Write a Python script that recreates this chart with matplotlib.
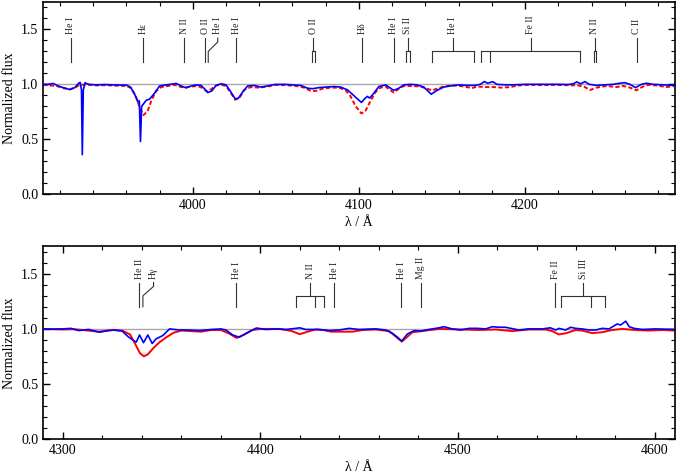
"""Observed vs. model spectrum of a B star, two wavelength windows, with line identifications."""

import matplotlib
matplotlib.use("Agg")
from matplotlib import pyplot as plt
from matplotlib.ticker import MultipleLocator, FormatStrFormatter

plt.rcParams.update({"font.family": ["Liberation Serif", "DejaVu Serif"],
                     "mathtext.fontset": "stix"})

# --- window 1: 3910-4290 A -------------------------------------------------
obs1_wl = [3910, 3913, 3916, 3919, 3922, 3926, 3929, 3931, 3932.2, 3933.0, 3933.5, 3934.1, 3935.2,
           3937, 3942, 3947, 3952, 3957, 3960, 3962.5, 3965, 3966.9, 3967.8, 3968.5, 3969.2, 3970.2,
           3972, 3974, 3977, 3980, 3984, 3988, 3990, 3993, 3996, 3999, 4002, 4005, 4007, 4009,
           4011.5, 4014, 4017, 4020, 4022.5, 4025.5, 4027.5, 4030, 4033, 4037, 4041, 4045, 4049,
           4055, 4060, 4065, 4069, 4072, 4076, 4080, 4085, 4089, 4093, 4096, 4098.5, 4101.5, 4103.5,
           4105, 4106.5, 4109, 4112, 4116, 4119, 4121, 4124, 4127, 4131, 4135, 4139, 4143.5, 4147,
           4151, 4155, 4160, 4165, 4170, 4173, 4175.5, 4177.5, 4180.5, 4183, 4188, 4193, 4200, 4210,
           4220, 4226, 4229, 4231, 4233.5, 4236, 4238.5, 4243, 4248, 4253, 4258, 4260, 4263, 4266.5,
           4270, 4273, 4277, 4283, 4290]
obs1_fl = [1.000, 1.000, 1.008, 0.985, 0.970, 0.952, 0.970, 1.005, 1.018, 0.950, 0.360, 0.950, 1.015,
           1.000, 0.995, 0.998, 0.995, 0.993, 0.993, 0.975, 0.910, 0.840, 0.850, 0.480, 0.800, 0.820,
           0.855, 0.865, 0.920, 0.985, 0.995, 1.003, 1.008, 0.985, 0.968, 0.985, 0.995, 0.990, 0.960, 0.925,
           0.940, 0.990, 1.005, 0.995, 0.940, 0.868, 0.875, 0.930, 0.985, 0.990, 0.975, 0.985, 0.998,
           1.000, 0.995, 0.990, 0.965, 0.960, 0.970, 0.975, 0.980, 0.975, 0.950, 0.910, 0.875, 0.835, 0.870,
           0.890, 0.875, 0.920, 0.980, 0.995, 0.965, 0.945, 0.965, 0.995, 1.000, 0.995, 0.975, 0.910, 0.945,
           0.975, 0.985, 0.995, 0.990, 0.990, 1.000, 1.025, 1.010, 1.024, 1.000, 0.995, 0.995, 1.000, 1.000,
           1.000, 0.998, 1.005, 1.022, 1.005, 1.025, 1.000, 0.990, 0.995, 1.000, 1.012, 1.015, 1.000, 0.970,
           1.000, 1.010, 1.000, 0.995, 0.990]

mod1_wl = [3910, 3914, 3918, 3922, 3926, 3929, 3932, 3936, 3942, 3948, 3954, 3960, 3963, 3966, 3968,
           3970.3, 3972.9, 3975, 3978, 3981, 3985, 3989, 3993, 3996, 3999, 4003, 4006, 4008.5, 4011,
           4014, 4017, 4020, 4022.5, 4025.5, 4028, 4031, 4035, 4040, 4045, 4050, 4056, 4062, 4067, 4071,
           4074, 4078, 4083, 4088, 4092, 4095, 4098, 4101.5, 4104, 4107, 4110, 4113, 4116, 4119, 4121,
           4124, 4127, 4132, 4137, 4141, 4144, 4147, 4151, 4156, 4161, 4165, 4168, 4171, 4176, 4181,
           4186, 4191, 4196, 4202, 4210, 4218, 4226, 4232, 4236, 4239, 4243, 4249, 4255, 4259, 4263,
           4267, 4271, 4274, 4279, 4285, 4290]
mod1_fl = [0.995, 0.990, 0.985, 0.965, 0.955, 0.970, 0.995, 0.998, 0.990, 0.992, 0.988, 0.985, 0.965,
           0.880, 0.790, 0.720, 0.757, 0.850, 0.940, 0.975, 0.985, 0.995, 0.975, 0.972, 0.980, 0.985,
           0.965, 0.935, 0.955, 0.990, 0.995, 0.985, 0.930, 0.860, 0.875, 0.950, 0.975, 0.970, 0.980, 0.995,
           0.992, 0.985, 0.970, 0.940, 0.940, 0.960, 0.970, 0.970, 0.945, 0.890, 0.800, 0.735, 0.760, 0.850,
           0.930, 0.970, 0.980, 0.945, 0.925, 0.960, 0.985, 0.985, 0.980, 0.960, 0.945, 0.960, 0.980, 0.990,
           0.985, 0.975, 0.965, 0.980, 0.975, 0.975, 0.970, 0.975, 0.990, 0.995, 0.993, 0.995, 0.992, 0.990,
           0.975, 0.948, 0.970, 0.985, 0.975, 0.985, 0.970, 0.945, 0.980, 0.995, 0.990, 0.975, 0.985]

# --- window 2: 4290-4610 A -------------------------------------------------
obs2_wl = [4290, 4295, 4300, 4304, 4308, 4313, 4318.5, 4323, 4326, 4330, 4333, 4335.4, 4337.1, 4338.8,
           4340.8, 4343, 4345.2, 4347.2, 4350.6, 4354, 4359, 4364, 4369, 4375.5, 4380, 4382.6, 4386,
           4389.4, 4392.8, 4396, 4398, 4402.9, 4408, 4413, 4418, 4420, 4423, 4429.7, 4434.8, 4440, 4445,
           4450, 4458.5, 4463.6, 4467, 4469.5, 4471.7, 4474.6, 4478, 4481.3, 4485.5, 4490.6, 4493, 4497.3,
           4501.5, 4505.8, 4510, 4514.2, 4517.6, 4521, 4524.3, 4527, 4531, 4536, 4543, 4547, 4549.7,
           4551.4, 4554.7, 4557.3, 4559.8, 4563.2, 4566.5, 4570, 4573.3, 4576.7, 4580.9, 4582.6, 4585.2,
           4587, 4589.4, 4593.6, 4600.4, 4605, 4610]
obs2_fl = [1.000, 0.998, 1.000, 1.005, 0.985, 0.995, 0.970, 0.985, 0.990, 0.980, 0.930, 0.900, 0.880, 0.945,
           0.875, 0.945, 0.868, 0.910, 0.940, 1.000, 0.990, 0.990, 0.985, 0.995, 1.000, 0.990, 0.945,
           0.925, 0.960, 0.990, 1.008, 0.995, 1.000, 0.995, 1.005, 1.010, 0.995, 0.995, 0.985, 0.990, 1.005,
           0.995, 1.000, 0.990, 0.960, 0.925, 0.890, 0.955, 0.985, 0.980, 0.995, 1.010, 1.020, 1.000,
           0.990, 1.005, 1.005, 1.000, 1.020, 1.015, 1.015, 1.005, 0.990, 1.000, 1.000, 1.010, 0.990,
           1.005, 0.990, 1.015, 1.005, 1.000, 0.990, 0.990, 1.005, 1.000, 1.045, 1.035, 1.070,
           1.020, 1.005, 0.995, 1.000, 0.998, 0.995]

mod2_wl = [4290, 4300, 4305, 4310, 4318, 4325, 4330, 4334, 4337, 4339, 4341, 4343, 4346, 4349, 4352,
           4356, 4360, 4365, 4370, 4375, 4380, 4384, 4388, 4392, 4396, 4400, 4410, 4416, 4420, 4424,
           4428, 4432, 4436, 4441.7, 4446.8, 4451.8, 4458.6, 4465.3, 4468.7, 4471.7, 4474.6, 4477.1,
           4479.6, 4483.9, 4490.6, 4502.4, 4510.8, 4519.3, 4527.7, 4536.1, 4544.5, 4548, 4551.3, 4554.7,
           4559.8, 4563.2, 4568.2, 4573.3, 4578.3, 4583.4, 4590.2, 4596.9, 4603.6, 4610]
mod2_fl = [1.000, 0.995, 0.998, 0.990, 0.975, 0.990, 0.985, 0.950, 0.850, 0.780, 0.752, 0.770, 0.830, 0.880,
           0.920, 0.965, 0.985, 0.980, 0.975, 0.990, 0.990, 0.960, 0.918, 0.950, 0.990, 1.000, 1.000, 0.980,
           0.952, 0.975, 0.995, 0.990, 0.975, 0.975, 0.975, 0.990, 0.995, 0.980, 0.930, 0.885, 0.930, 0.970,
           0.975, 0.985, 1.000, 0.995, 0.990, 0.995, 0.980, 0.995, 0.995, 0.980, 0.950, 0.960,
           0.990, 0.985, 0.962, 0.970, 0.990, 1.000, 0.990, 0.985, 0.990, 0.985]

# --- line identifications: (label, rest wavelengths, label position) --------
lines1 = [("He I", [3926.5], 3926.5), ("H\u03b5", [3970.1], 3970.1), ("N II", [3995.0], 3995.0),
          ("O II", [4007.6], 4007.6), ("He I", [4009.3], 4015.0), ("He I", [4026.2], 4026.2),
          ("O II", [4071.8, 4073.4], 4072.6), ("H\u03b4", [4101.7], 4101.7), ("He I", [4120.8], 4120.8),
          ("Si II", [4128.1, 4130.9], 4129.5), ("He I", [4143.8, 4169.0], 4156.4),
          ("Fe II", [4173.5, 4178.9, 4233.2], 4203.3), ("N II", [4241.2, 4242.4], 4241.8),
          ("C II", [4267.2], 4267.2)]
lines2 = [("He II", [4338.7], 4338.7), ("H\u03b3", [4340.5], 4345.9), ("He I", [4387.9], 4387.9),
          ("N II", [4418.0, 4427.5, 4432.5], 4425.2), ("He I", [4437.5], 4437.5),
          ("He I", [4471.5], 4471.5), ("Mg II", [4481.2], 4481.2), ("Fe II", [4549.5], 4549.5),
          ("Si III", [4552.6, 4567.8, 4574.8], 4563.7)]

Y_LO, Y_BAR, Y_HI, Y_TXT = 1.2, 1.3, 1.42, 1.455
LINE_KW = dict(color="#333333", linewidth=0.8)


def mark_lines(ax, lines):
    for label, waves, xlab in lines:
        if len(waves) == 1:
            w = waves[0]
            if abs(xlab - w) < 0.01:
                ax.plot([w, w], [Y_LO, Y_HI], **LINE_KW)
            else:  # bent marker for blended neighbours
                ax.plot([w, w, xlab, xlab], [Y_LO, Y_BAR, Y_BAR + 0.085, Y_HI], **LINE_KW)
        else:
            for w in waves:
                ax.plot([w, w], [Y_LO, Y_BAR], **LINE_KW)
            ax.plot([min(waves), max(waves)], [Y_BAR, Y_BAR], **LINE_KW)
            ax.plot([xlab, xlab], [Y_BAR, Y_HI], **LINE_KW)
        ax.text(xlab, Y_TXT, label, rotation=90, ha="center", va="bottom", fontsize=7, color="#222222")


def draw_panel(ax, obs, mod, lines, xlim, model_style):
    ax.axhline(1.0, color="#a8a8a8", linewidth=1.0, zorder=1)
    ax.plot(mod[0], mod[1], color="#ff0000", linewidth=1.4, linestyle=model_style, zorder=2)
    ax.plot(obs[0], obs[1], color="#0000ff", linewidth=1.2, zorder=3)
    mark_lines(ax, lines)

    ax.set_xlim(*xlim)
    ax.set_ylim(0, 1.75)
    ax.xaxis.set_major_locator(MultipleLocator(100))
    ax.xaxis.set_minor_locator(MultipleLocator(20))
    ax.yaxis.set_major_locator(MultipleLocator(0.5))
    ax.yaxis.set_minor_locator(MultipleLocator(0.1))
    ax.yaxis.set_major_formatter(FormatStrFormatter("%.1f"))
    ax.tick_params(which="both", direction="in", top=True, right=True, labelsize=10)
    ax.tick_params(which="major", length=5, width=1.0)
    ax.tick_params(which="minor", length=3, width=0.8)
    for sp in ax.spines.values():
        sp.set_linewidth(1.2)
    ax.set_xlabel("\u03bb / \u00c5", fontsize=10, labelpad=3)
    ax.set_ylabel("Normalized flux", fontsize=10, labelpad=4)


def main():
    fig = plt.figure(figsize=(6.76, 4.76), dpi=100)
    ax1 = fig.add_axes([0.064, 0.592, 0.934, 0.404])
    ax2 = fig.add_axes([0.064, 0.077, 0.934, 0.406])

    draw_panel(ax1, (obs1_wl, obs1_fl), (mod1_wl, mod1_fl), lines1, (3910, 4290), (0, (2.2, 1.2)))
    draw_panel(ax2, (obs2_wl, obs2_fl), (mod2_wl, mod2_fl), lines2, (4290, 4610), "-")

    fig.savefig("out.png", dpi=100)


if __name__ == "__main__":
    main()
